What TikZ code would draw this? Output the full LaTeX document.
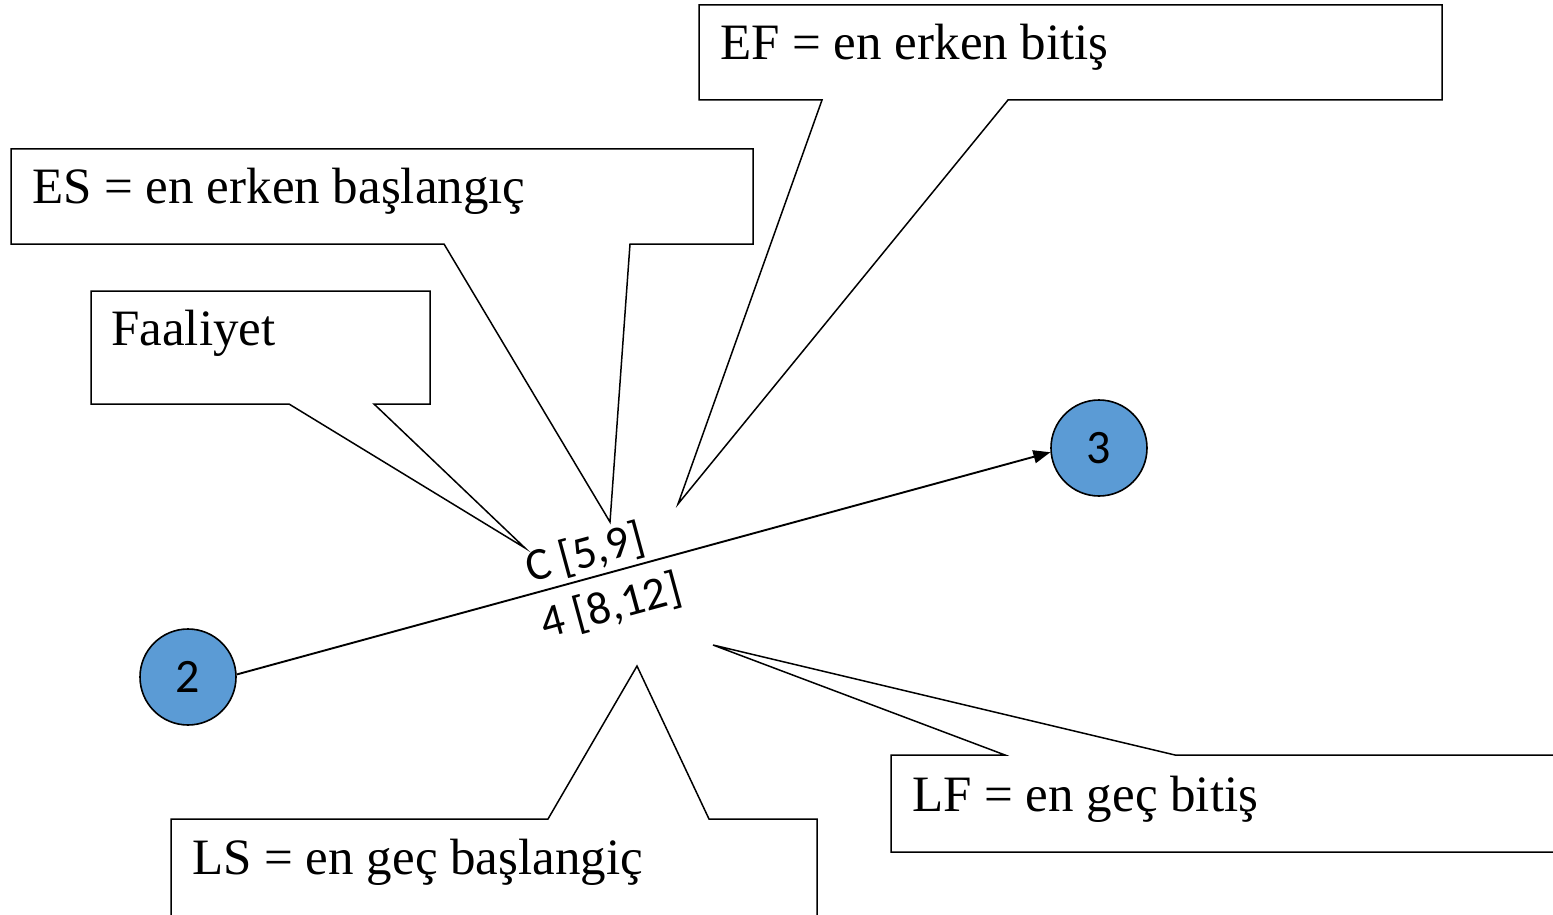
\documentclass[tikz,border=0pt]{standalone}
\usepackage{fontspec}
\setmainfont{Liberation Serif}
\newfontfamily\calib{Carlito}
\usetikzlibrary{arrows.meta}
\definecolor{nodeblue}{HTML}{5B9BD5}
\tikzset{
  callout/.style={draw=black, line width=1.5pt, fill=white, line join=miter},
  ctext/.style={anchor=base west, inner sep=0pt, font=\fontsize{51}{60}\selectfont},
  event/.style={circle, draw=black, line width=1.6pt, fill=nodeblue, minimum size=96pt, inner sep=0pt, font=\calib\fontsize{48}{56}\selectfont},
  actlabel/.style={inner sep=0pt, rotate=15.2, font=\calib\fontsize{46}{54}\selectfont},
  conn/.style={line width=1.9pt, -{Triangle[length=17pt,width=13pt]}}
}
\begin{document}
\begin{tikzpicture}[x=1pt,y=-1pt]
\useasboundingbox (0,0) rectangle (1553,915);
\clip (0,0) rectangle (1553,915);
% EF callout
\draw[callout] (699,5) -- (1442,5) -- (1442,100) -- (1008,100) -- (678,504) -- (822,100) -- (699,100) -- cycle;
\node[ctext] (efText) at (720,60) {EF = en erken bitiş};
% ES callout
\draw[callout] (11,149) -- (753,149) -- (753,244) -- (630,244) -- (610,522) -- (444,244) -- (11,244) -- cycle;
\node[ctext] (esText) at (32,204) {ES = en erken başlangıç};
% Faaliyet callout
\draw[callout] (91,291) -- (430,291) -- (430,404) -- (374,404) -- (525,548) -- (289,404) -- (91,404) -- cycle;
\node[ctext] (faText) at (111,345) {Faaliyet};
% LS callout
\draw[callout] (171,819) -- (548,819) -- (637,666) -- (709,819) -- (817,819) -- (817,940) -- (171,940) -- cycle;
\node[ctext] (lsText) at (192,874) {LS = en geç başlangiç};
% LF callout
\draw[callout] (891,755) -- (1005,755) -- (713,645) -- (1175,755) -- (1580,755) -- (1580,852) -- (891,852) -- cycle;
\node[ctext] (lfText) at (912,811) {LF = en geç bitiş};
% events
\node[event] (n2) at (188,677) {2};
\node[event] (n3) at (1099,448) {3};
\draw[conn] (n2.3) -- (n3.185);
\node[actlabel] (lblTop) at (585,554) {C [5,9]};
\node[actlabel] (lblBot) at (611,607) {4 [8,12]};
\end{tikzpicture}
\end{document}
